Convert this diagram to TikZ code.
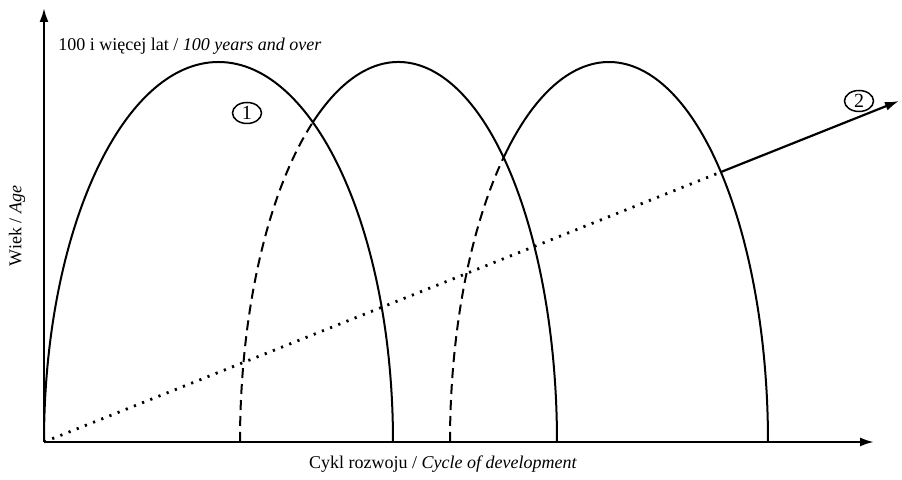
\documentclass[tikz,border=0pt]{standalone}
\usepackage{fontspec}
\setmainfont{Liberation Serif}
\usetikzlibrary{arrows.meta,shapes.geometric,intersections}
\tikzset{
  axis/.style={line width=1.1pt,-{Latex[length=7pt,width=4.5pt]}},
  curve/.style={line width=1pt},
  lead/.style={curve,dash pattern=on 5pt off 3pt},
  trend/.style={line width=1.4pt,dash pattern=on 1.1pt off 3.3pt},
  tag/.style={draw,ellipse,line width=0.75pt,minimum width=14.5pt,minimum height=10.5pt,inner sep=0pt,font=\fontsize{10}{12}\selectfont}
}
\begin{document}
\begin{tikzpicture}[x=0.5pt,y=0.5pt,font=\fontsize{9}{11}\selectfont]
  \useasboundingbox (-44,-38) rectangle (858,442);
  \coordinate (O) at (0,0);
  \coordinate (ytop) at (0,434);
  \coordinate (xend) at (830,0);
  \coordinate (tip) at (855,341);
  % axes
  \draw[axis] (O) -- (ytop);
  \draw[axis] (O) -- (xend);
  % three cycles
  \draw[curve] (O) arc[start angle=180,end angle=0,x radius=174.5,y radius=380];
  \draw[lead] (196,0) arc[start angle=180,end angle=122.72,x radius=158.5,y radius=380] coordinate (m2);
  \draw[curve] (m2) arc[start angle=122.72,end angle=0,x radius=158.5,y radius=380];
  \draw[lead] (406,0) arc[start angle=180,end angle=131.53,x radius=159,y radius=380] coordinate (m3);
  \draw[curve,name path=arc3] (m3) arc[start angle=131.53,end angle=0,x radius=159,y radius=380];
  % trend line
  \path[name path=line2] (O) -- (tip);
  \path[name intersections={of=arc3 and line2,by=cut}];
  \draw[trend] (O) -- (cut);
  \draw[curve,line width=1.1pt,-{Latex[length=7pt,width=4.5pt]}] (cut) -- (tip);
  % labels
  \node[anchor=base west,inner sep=0pt] (top) at (14,391) {100 i więcej lat / \textit{100 years and over}};
  \node[anchor=base] (xlab) at (399,-27) {Cykl rozwoju / \textit{Cycle of development}};
  \node[rotate=90,anchor=base] (ylab) at (-22.5,216) {Wiek / \textit{Age}};
  \node[tag] (c1) at (203,329) {1};
  \node[tag] (c2) at (815,341) {2};
\end{tikzpicture}
\end{document}
